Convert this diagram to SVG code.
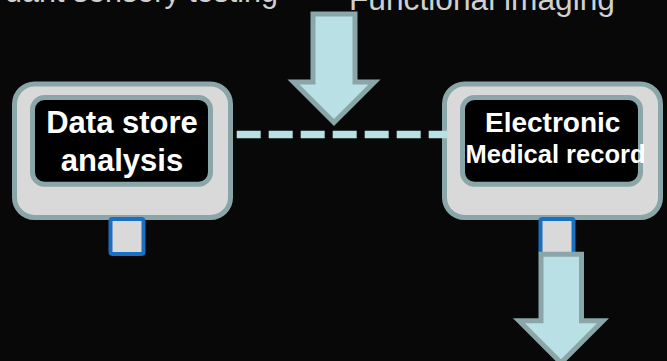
<svg xmlns="http://www.w3.org/2000/svg" width="667" height="361" viewBox="0 0 667 361">
  <style>
    .outer { fill: #d9d9d9; stroke: #8aa6a8; stroke-width: 5; }
    .inner { fill: #000000; stroke: #8aa6a8; stroke-width: 5; }
    .port { fill: #d9d9d9; stroke: #1a6fc0; stroke-width: 4; }
    .label { fill: #ffffff; font-family: "Liberation Sans", Arial, sans-serif; font-weight: bold; text-anchor: middle; }
    .caption { fill: #d0d0d0; font-family: "Liberation Sans", Arial, sans-serif; }
    .block { fill: #b9e0e4; stroke: #8aa6a8; stroke-width: 5; stroke-linejoin: miter; }
    .dash { stroke: #b9e0e4; stroke-width: 7.5; stroke-dasharray: 24 8; fill: none; }
  </style>
  <rect x="0" y="0" width="667" height="361" fill="#080808"/>

  <text class="caption" x="278" y="1.5" font-size="30.5" text-anchor="end">dant sensory testing</text>
  <text class="caption" x="349" y="10" font-size="32" textLength="266" lengthAdjust="spacingAndGlyphs">Functional imaging</text>

  <g id="node-data-store">
    <rect class="outer" x="14.5" y="84" width="216" height="133.5" rx="20"/>
    <rect class="inner" x="32.5" y="97.5" width="178" height="86.7" rx="12"/>
    <rect class="port" x="110.5" y="219" width="33" height="35" rx="2"/>
    <text class="label" x="122" y="133.3" font-size="31">Data store</text>
    <text class="label" x="122" y="170.7" font-size="31">analysis</text>
  </g>

  <g id="node-emr">
    <rect class="outer" x="444.5" y="84" width="216" height="133.5" rx="20"/>
    <rect class="inner" x="462.5" y="97.5" width="178" height="86.7" rx="12"/>
    <rect class="port" x="540.5" y="219" width="33" height="35" rx="2"/>
    <text class="label" x="552.7" y="131.7" font-size="28">Electronic</text>
    <text class="label" x="555.5" y="162.7" font-size="25.5">Medical record</text>
  </g>

  <g id="connectors">
    <line class="dash" x1="236.7" y1="134.5" x2="448" y2="134.5"/>
    <polygon class="block" points="313,14 355,14 355,82 374.5,82 334,122.5 293.5,82 313,82"/>
    <polygon class="block" points="541,254.2 581.5,254.2 581.5,320.8 603,320.8 561,362.8 519,320.8 541,320.8"/>
  </g>
</svg>
